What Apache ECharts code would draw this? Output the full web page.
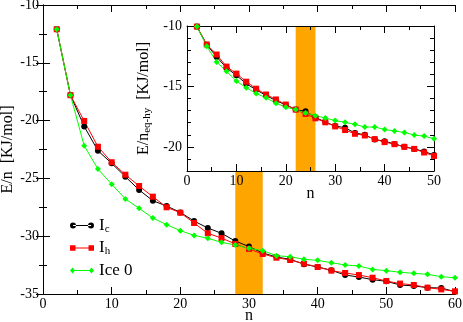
<!DOCTYPE html>
<html lang="en">
<head>
	<meta charset="UTF-8">
	<script src="https://cdn.jsdelivr.net/npm/echarts@6/dist/echarts.min.js"></script>
	<title>E/n vs n</title>
	<style>
		html, body { margin: 0; padding: 0; background: #fff; }
	</style>
</head>
<body>
	<div id="main" style="width: 463px;height:322px;"></div>

	<script>
		// main panel data
		var nMain = [2, 4, 6, 8, 10, 12, 14, 16, 18, 20, 22, 24, 26, 28, 30, 32, 34, 36, 38, 40, 42, 44, 46, 48, 50, 52, 54, 56, 58, 60];
		var icMain = [-12.1, -17.8, -20.5, -22.6, -23.7, -24.85, -26.0, -26.93, -27.39, -27.94, -28.69, -29.29, -29.75, -30.42, -30.9,
			-31.45, -31.8, -32.0, -32.42, -32.66, -32.95, -33.36, -33.53, -33.76, -33.9, -34.22, -34.3, -34.45, -34.48, -34.8];
		var ihMain = [-12.1, -17.8, -20.03, -22.26, -23.6, -24.68, -25.66, -26.58, -27.5, -27.97, -28.86, -29.75, -30.16, -30.67, -31.1,
			-31.54, -31.86, -32.06, -32.38, -32.66, -32.98, -33.18, -33.36, -33.59, -33.88, -34.1, -34.22, -34.45, -34.6, -34.77];
		var ice0Main = [-12.1, -17.8, -22.17, -24.19, -25.5, -26.78, -27.59, -28.43, -29.0, -29.52, -29.93, -30.18, -30.53, -30.76, -31.05,
			-31.25, -31.69, -31.77, -32.0, -32.09, -32.29, -32.49, -32.58, -32.87, -32.98, -33.12, -33.21, -33.3, -33.5, -33.59];

		// inset data
		var nInset = [2, 4, 6, 8, 10, 12, 14, 16, 18, 20, 22, 24, 26, 28, 30, 32, 34, 36, 38, 40, 42, 44, 46, 48, 50];
		var icInset = [-10.05, -11.55, -12.55, -13.47, -14.08, -14.78, -15.28, -15.75, -16.17, -16.53, -16.92, -17.06, -17.56,
			-17.95, -18.28, -18.42, -18.86, -19.0, -19.4, -19.53, -19.76, -20.0, -20.17, -20.39, -20.67];
		var ihInset = [-10.05, -11.53, -12.36, -13.36, -13.94, -14.61, -15.19, -15.67, -16.08, -16.5, -16.92, -17.28, -17.64,
			-17.97, -18.31, -18.61, -18.92, -19.06, -19.36, -19.61, -19.78, -20.0, -20.17, -20.47, -20.75];
		var ice0Inset = [-10.05, -11.67, -12.97, -13.75, -14.56, -15.11, -15.58, -15.94, -16.39, -16.72, -16.92, -17.2, -17.42,
			-17.61, -17.83, -17.97, -18.14, -18.36, -18.36, -18.56, -18.69, -18.81, -19.03, -19.11, -19.33];

		// shaded n ranges
		var bandMain = [28, 32];
		var bandInset = [22, 26];

		// inset y ticks
		var insetMajorTicks = [-20, -15, -10];

		var names = ['Ic', 'Ih', 'Ice 0'];
		var colors = ['#000000', '#ff0000', '#00ff00'];
		var symbols = ['circle', 'rect', 'diamond'];

		var FONT = 'Liberation Serif';

		function zip(xs, ys) {
			return xs.map(function (x, i) { return [x, ys[i]]; });
		}

		var mainData = [icMain, ihMain, ice0Main];
		var insetData = [icInset, ihInset, ice0Inset];

		var black = { color: '#000' };

		function xAx(grid, pos, max, showLabel, extra) {
			return Object.assign({
				type: 'value', gridIndex: grid, position: pos, min: 0, max: max, interval: 10,
				axisLine: { lineStyle: { color: '#000', width: 1 } },
				axisTick: { inside: true, length: 7, lineStyle: black },
				minorTick: { show: true, splitNumber: 2, length: 4, lineStyle: black },
				splitLine: { show: false },
				axisLabel: { show: showLabel, color: '#000', fontFamily: FONT, fontSize: 14, margin: 3 }
			}, extra || {});
		}

		var xAxes = [
			xAx(0, 'bottom', 60, true, {
				name: 'n', nameLocation: 'middle', nameGap: 14, nameMoveOverlap: false,
				nameTextStyle: { color: '#000', fontFamily: FONT, fontSize: 16 }
			}),
			xAx(0, 'top', 60, false),
			xAx(1, 'bottom', 50, true, {
				z: 6, name: 'n', nameLocation: 'middle', nameGap: 15, nameMoveOverlap: false,
				nameTextStyle: { color: '#000', fontFamily: FONT, fontSize: 16 }
			}),
			xAx(1, 'top', 50, false, { z: 6 })
		];

		function yMain(pos, showLabel, extra) {
			return Object.assign({
				type: 'value', gridIndex: 0, position: pos, min: -35, max: -10, interval: 5,
				axisLine: { lineStyle: { color: '#000', width: 1 } },
				axisTick: { inside: true, length: 7, lineStyle: black },
				minorTick: { show: true, splitNumber: 2, length: 4, lineStyle: black },
				splitLine: { show: false },
				axisLabel: { show: showLabel, color: '#000', fontFamily: FONT, fontSize: 14, margin: 4 }
			}, extra || {});
		}

		function yInsetMajor(pos, showLabel, extra) {
			return Object.assign({
				type: 'value', gridIndex: 1, position: pos, min: -22, max: -10, interval: 1, z: 6,
				axisLine: { lineStyle: { color: '#000', width: 1 } },
				axisTick: { inside: true, length: 7, lineStyle: black, customValues: insetMajorTicks },
				splitLine: { show: false },
				axisLabel: { show: showLabel, color: '#000', fontFamily: FONT, fontSize: 14, margin: 5, customValues: insetMajorTicks }
			}, extra || {});
		}

		function yInsetMinor(pos) {
			return {
				type: 'value', gridIndex: 1, position: pos, min: -22, max: -10, interval: 1, z: 6,
				axisLine: { show: false },
				axisTick: { inside: true, length: 4, lineStyle: black },
				splitLine: { show: false },
				axisLabel: { show: false }
			};
		}

		var yAxes = [
			yMain('left', true, {
				name: 'E/n  [KJ/mol]', nameLocation: 'middle', nameGap: 27, nameMoveOverlap: false,
				nameTextStyle: { color: '#000', fontFamily: FONT, fontSize: 16 }
			}),
			yMain('right', false),
			yInsetMajor('left', true, {
				name: '{m|E/n}{s|eq-hy}{m|  [KJ/mol]}', nameLocation: 'middle', nameGap: 23,
				nameTextStyle: {
					color: '#000', fontFamily: FONT, fontSize: 16,
					rich: {
						m: { fontFamily: FONT, fontSize: 16, color: '#000' },
						s: { fontFamily: FONT, fontSize: 11, color: '#000', padding: [6, 0, 0, 0] }
					}
				}
			}),
			yInsetMinor('left'),
			yInsetMajor('right', false),
			yInsetMinor('right')
		];

		var series = [];
		names.forEach(function (name, i) {
			var s = {
				name: name, type: 'line', xAxisIndex: 0, yAxisIndex: 0,
				data: zip(nMain, mainData[i]),
				symbol: symbols[i], symbolSize: 6,
				lineStyle: { color: colors[i], width: 1 },
				itemStyle: { color: colors[i] },
				animation: false
			};
			if (i === 0) {
				s.markArea = {
					silent: true,
					itemStyle: { color: '#ffa500', opacity: 1 },
					data: [[{ xAxis: bandMain[0], yAxis: -35 }, { xAxis: bandMain[1], yAxis: -23 }]]
				};
			}
			series.push(s);
		});
		names.forEach(function (name, i) {
			var s = {
				name: name, type: 'line', xAxisIndex: 2, yAxisIndex: 2, z: 7,
				data: zip(nInset, insetData[i]),
				symbol: symbols[i], symbolSize: 6,
				lineStyle: { color: colors[i], width: 1 },
				itemStyle: { color: colors[i] },
				animation: false
			};
			if (i === 0) {
				s.markArea = {
					silent: true, z: 6,
					itemStyle: { color: '#ffa500', opacity: 1 },
					data: [[{ xAxis: bandInset[0], yAxis: -22 }, { xAxis: bandInset[1], yAxis: -10 }]]
				};
			}
			series.push(s);
		});

		var icons = [
			'path://M0,3A3,3 0 1,0 6,3A3,3 0 1,0 0,3Z M18,3A3,3 0 1,0 24,3A3,3 0 1,0 18,3Z M3,2.5L21,2.5L21,3.5L3,3.5Z',
			'path://M0,0.5L5.5,0.5L5.5,6L0,6Z M18.5,0.5L24,0.5L24,6L18.5,6Z M5,2.8L19,2.8L19,3.7L5,3.7Z',
			'path://M0,3L2.5,0L5,3L2.5,6Z M19,3L21.5,0L24,3L21.5,6Z M2.5,2.6L21.5,2.6L21.5,3.4L2.5,3.4Z'
		];
		var legendLabels = {
			'Ic': '{m|I}{s|c}',
			'Ih': '{m|I}{s|h}',
			'Ice 0': '{m|Ice 0}'
		};

		var chart = echarts.init(document.getElementById('main'), null, { renderer: 'canvas' });
		chart.setOption({
			animation: false,
			backgroundColor: '#fff',
			grid: [
				{ left: 43, top: 5, width: 412, height: 289, outerBoundsMode: 'none' },
				{ left: 187, top: 26, width: 247, height: 145, outerBoundsMode: 'none',
					show: true, backgroundColor: '#fff', borderWidth: 0, z: 5 }
			],
			legend: {
				orient: 'vertical', left: 65, top: 212, itemGap: 5,
				itemWidth: 24, itemHeight: 6,
				data: names.map(function (n, i) { return { name: n, icon: icons[i] }; }),
				formatter: function (name) { return legendLabels[name]; },
				textStyle: {
					color: '#000', fontFamily: FONT, fontSize: 16,
					rich: {
						m: { fontFamily: FONT, fontSize: 17, color: '#000', lineHeight: 18 },
						s: { fontFamily: FONT, fontSize: 11, color: '#000', padding: [7, 0, 0, 0] }
					}
				}
			},
			xAxis: xAxes,
			yAxis: yAxes,
			series: series
		});
	</script>
</body>
</html>
